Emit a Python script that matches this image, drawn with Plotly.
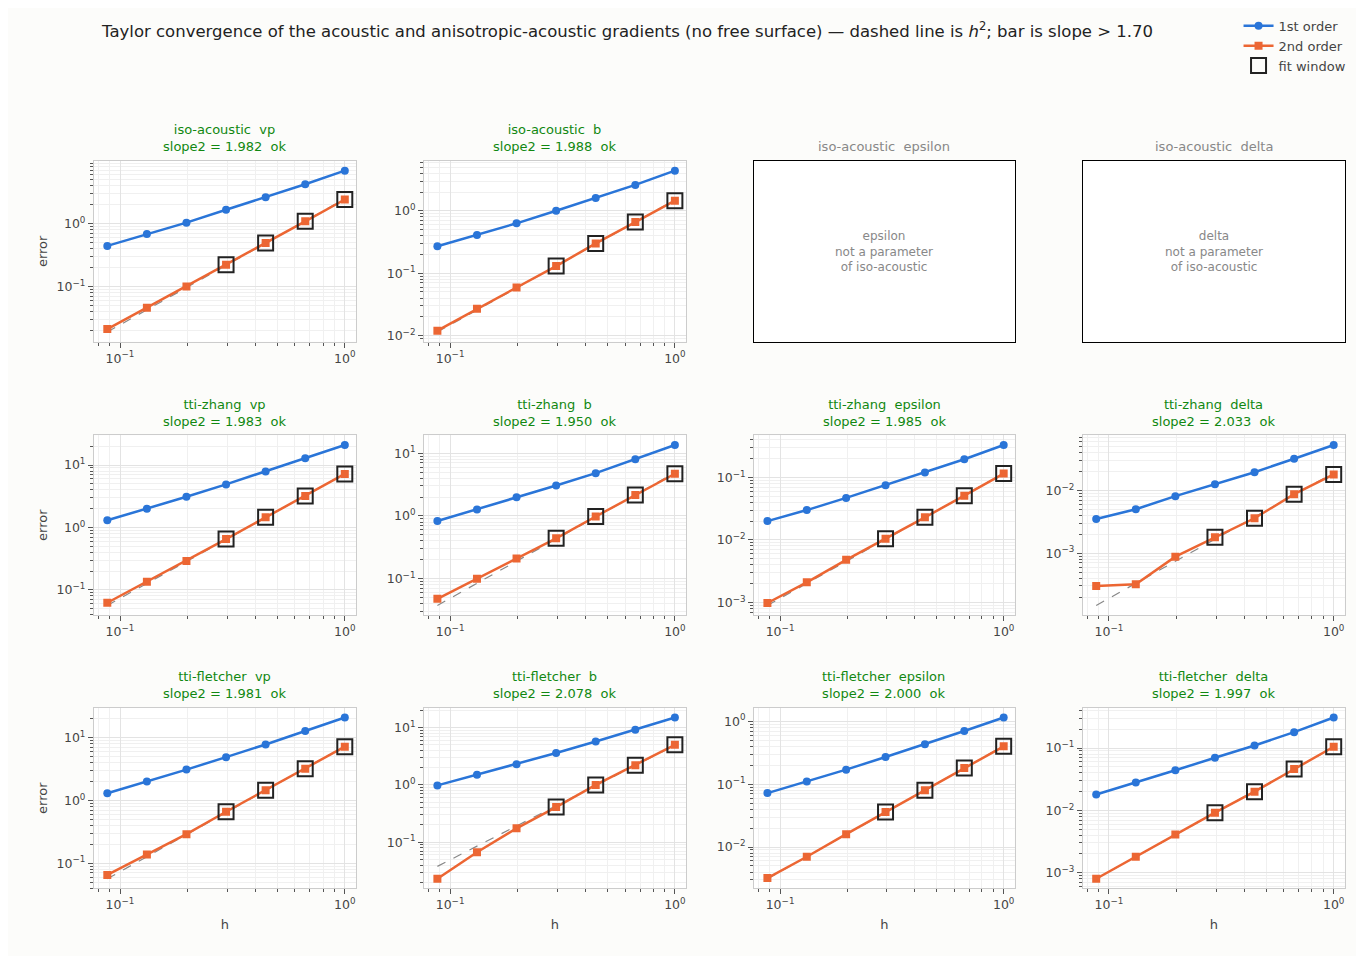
import numpy as np
import plotly.graph_objects as go

h = [0.0878, 0.1317, 0.1975, 0.2963, 0.4444, 0.6667, 1.0]
fit_idx = [3, 4, 5, 6]
rows_labels = ["iso-acoustic", "tti-zhang", "tti-fletcher"]
params = ["vp", "b", "epsilon", "delta"]

first = {
    ("iso-acoustic", "vp"): [0.44, 0.68, 1.03, 1.65, 2.6, 4.2, 6.9],
    ("iso-acoustic", "b"): [0.27, 0.41, 0.63, 1.0, 1.6, 2.6, 4.4],
    ("tti-zhang", "vp"): [1.3, 2.0, 3.1, 4.9, 7.9, 12.8, 21.0],
    ("tti-zhang", "b"): [0.83, 1.27, 1.98, 3.05, 4.8, 8.0, 13.5],
    ("tti-zhang", "epsilon"): [0.020, 0.030, 0.047, 0.075, 0.12, 0.195, 0.33],
    ("tti-zhang", "delta"): [0.0035, 0.005, 0.0081, 0.0125, 0.0195, 0.032, 0.053],
    ("tti-fletcher", "vp"): [1.3, 2.0, 3.1, 4.9, 7.8, 12.8, 21.0],
    ("tti-fletcher", "b"): [0.98, 1.5, 2.3, 3.6, 5.7, 9.2, 15.0],
    ("tti-fletcher", "epsilon"): [0.072, 0.11, 0.17, 0.27, 0.43, 0.70, 1.15],
    ("tti-fletcher", "delta"): [0.018, 0.028, 0.044, 0.07, 0.11, 0.18, 0.31],
}
second = {
    ("iso-acoustic", "vp"): [0.021, 0.046, 0.10, 0.22, 0.49, 1.08, 2.4],
    ("iso-acoustic", "b"): [0.012, 0.027, 0.059, 0.13, 0.30, 0.66, 1.45],
    ("tti-zhang", "vp"): [0.062, 0.135, 0.29, 0.65, 1.45, 3.2, 7.2],
    ("tti-zhang", "b"): [0.048, 0.10, 0.21, 0.44, 0.98, 2.15, 4.7],
    ("tti-zhang", "epsilon"): [0.00098, 0.0021, 0.0048, 0.0104, 0.023, 0.051, 0.115],
    ("tti-zhang", "delta"): [0.0003, 0.00032, 0.00088, 0.0018, 0.0036, 0.0087, 0.018],
    ("tti-fletcher", "vp"): [0.065, 0.138, 0.29, 0.66, 1.45, 3.2, 7.2],
    ("tti-fletcher", "b"): [0.023, 0.067, 0.175, 0.41, 1.0, 2.2, 5.0],
    ("tti-fletcher", "epsilon"): [0.0032, 0.007, 0.016, 0.036, 0.08, 0.18, 0.40],
    ("tti-fletcher", "delta"): [0.0008, 0.0018, 0.0041, 0.0092, 0.020, 0.046, 0.105],
}
slopes = {
    ("iso-acoustic", "vp"): 1.982, ("iso-acoustic", "b"): 1.988,
    ("tti-zhang", "vp"): 1.983, ("tti-zhang", "b"): 1.950,
    ("tti-zhang", "epsilon"): 1.985, ("tti-zhang", "delta"): 2.033,
    ("tti-fletcher", "vp"): 1.981, ("tti-fletcher", "b"): 2.078,
    ("tti-fletcher", "epsilon"): 2.000, ("tti-fletcher", "delta"): 1.997,
}

BLUE = "#2a75d8"
ORANGE = "#ec6633"
xdom = [(0.063, 0.255), (0.305, 0.497), (0.547, 0.738), (0.788, 0.980)]
ydom = [(0.651, 0.840), (0.365, 0.553), (0.079, 0.268)]
XR = [-1.116, 0.049]


def pow_ticks(lo, hi):
    ks = [kk for kk in range(int(np.floor(lo)), int(np.ceil(hi)) + 1) if lo <= kk <= hi]
    return [10.0**kk for kk in ks], [f"10<sup>{kk}</sup>".replace("-", "−") for kk in ks]


def minor_ticks(lo, hi):
    out = []
    for kk in range(int(np.floor(lo)) - 1, int(np.ceil(hi)) + 1):
        for d in range(2, 10):
            v = d * 10.0**kk
            if lo <= np.log10(v) <= hi:
                out.append(v)
    return out


fig = go.Figure()
ann = []
k = 0
for r, rl in enumerate(rows_labels):
    for c, p in enumerate(params):
        k += 1
        xa = "x" if k == 1 else f"x{k}"
        ya = "y" if k == 1 else f"y{k}"
        xk = "xaxis" if k == 1 else f"xaxis{k}"
        yk = "yaxis" if k == 1 else f"yaxis{k}"
        key = (rl, p)
        cx = (xdom[c][0] + xdom[c][1]) / 2
        if key in first:
            e1, e2 = first[key], second[key]
            hf = np.array(h)[fit_idx]
            ef = np.array(e2)[fit_idx]
            C = np.exp(np.mean(np.log(ef / hf**2)))
            ref = [C * hh**2 for hh in h]
            fig.add_trace(go.Scatter(x=h, y=ref, xaxis=xa, yaxis=ya, mode="lines",
                                     line=dict(color="#888", dash="dash", width=1.2), showlegend=False))
            fig.add_trace(go.Scatter(x=h, y=e1, xaxis=xa, yaxis=ya, mode="lines+markers",
                                     line=dict(color=BLUE, width=2.5), marker=dict(size=8, color=BLUE),
                                     name="1st order", showlegend=(k == 1)))
            fig.add_trace(go.Scatter(x=h, y=e2, xaxis=xa, yaxis=ya, mode="lines+markers",
                                     line=dict(color=ORANGE, width=2.5),
                                     marker=dict(size=8, symbol="square", color=ORANGE),
                                     name="2nd order", showlegend=(k == 1)))
            fig.add_trace(go.Scatter(x=[h[i] for i in fit_idx], y=[e2[i] for i in fit_idx],
                                     xaxis=xa, yaxis=ya, mode="markers",
                                     marker=dict(size=15, symbol="square-open", color="#222",
                                                 line=dict(width=2)),
                                     name="fit window", showlegend=(k == 1)))
            lo = np.log10(min(min(e1), min(e2), min(ref)))
            hi = np.log10(max(max(e1), max(e2)))
            pad = (hi - lo) * 0.06
            ylo, yhi = lo - pad, hi + pad
            ytv, ytt = pow_ticks(ylo, yhi)
            xtv, xtt = pow_ticks(*XR)
            common = dict(ticks="outside", ticklen=5, tickcolor="#555", showline=True,
                          linecolor="#ccc", mirror=True, zeroline=False,
                          tickfont=dict(size=12.5, color="#444"),
                          showgrid=True, gridcolor="#e3e3e3")
            fig.layout[xk] = dict(domain=xdom[c], anchor=ya, type="log", range=XR,
                                  tickvals=xtv, ticktext=xtt,
                                  minor=dict(tickvals=minor_ticks(*XR), showgrid=True, gridcolor="#f0f0f0",
                                             ticks="outside", ticklen=3, tickcolor="#555"),
                                  title=dict(text="h" if r == 2 else "", font=dict(size=13, color="#444"),
                                             standoff=8),
                                  **common)
            fig.layout[yk] = dict(domain=ydom[r], anchor=xa, type="log", range=[ylo, yhi],
                                  tickvals=ytv, ticktext=ytt,
                                  minor=dict(tickvals=minor_ticks(ylo, yhi), showgrid=True, gridcolor="#f0f0f0",
                                             ticks="outside", ticklen=3, tickcolor="#555"),
                                  title=dict(text="error" if c == 0 else "", font=dict(size=13, color="#444"),
                                             standoff=6),
                                  **common)
            ann.append(dict(x=cx, y=ydom[r][1] + 0.005, xref="paper", yref="paper", xanchor="center",
                            yanchor="bottom", showarrow=False, align="center",
                            text=f"{rl}  {p}<br>slope2 = {slopes[key]:.3f}  ok",
                            font=dict(size=13, color="#118811")))
        else:
            fig.layout[xk] = dict(domain=xdom[c], anchor=ya, range=[0, 1], showticklabels=False,
                                  ticks="", showgrid=False, zeroline=False, showline=True,
                                  linecolor="black", mirror=True)
            fig.layout[yk] = dict(domain=ydom[r], anchor=xa, range=[0, 1], showticklabels=False,
                                  ticks="", showgrid=False, zeroline=False, showline=True,
                                  linecolor="black", mirror=True)
            ann.append(dict(x=cx, y=ydom[r][1] + 0.005, xref="paper", yref="paper", xanchor="center",
                            yanchor="bottom", showarrow=False, text=f"{rl}  {p}",
                            font=dict(size=13, color="#888")))
            ann.append(dict(x=0.5, y=0.5, xref=xa, yref=ya, showarrow=False,
                            text=f"{p}<br>not a parameter<br>of {rl}",
                            font=dict(size=12, color="#888")))

fig.update_layout(
    width=1364, height=956, margin=dict(l=0, r=0, t=0, b=0),
    paper_bgcolor="#fcfcfa", plot_bgcolor="white",
    font=dict(family="DejaVu Sans"),
    annotations=ann,
    title=dict(text="Taylor convergence of the acoustic and anisotropic-acoustic gradients (no free surface) — dashed line is <i>h</i><sup>2</sup>; bar is slope > 1.70",
               x=0.069, xanchor="left", y=0.976, yanchor="middle", font=dict(size=16.5, color="#222")),
    legend=dict(x=0.985, y=0.997, xanchor="right", yanchor="top", bgcolor="rgba(0,0,0,0)",
                font=dict(size=13, color="#444"), tracegroupgap=0),
)
fig.write_html("out.html")
